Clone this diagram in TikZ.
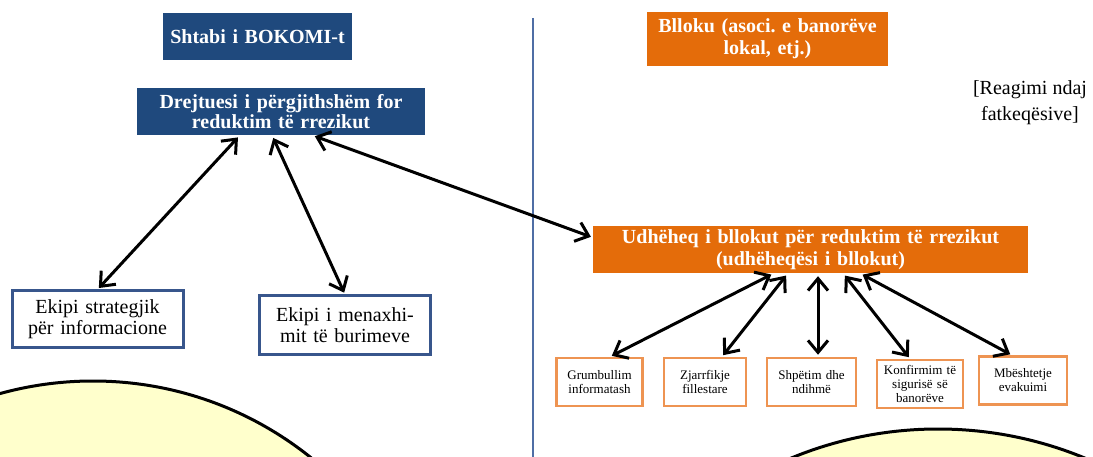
\documentclass[tikz,border=0pt]{standalone}
\usepackage{fontspec}
\setmainfont{Liberation Serif}
\usepackage{tikz}
\usetikzlibrary{shapes.geometric, arrows.meta}
\definecolor{navy}{RGB}{31,73,125}
\definecolor{portokalli}{RGB}{228,108,10}
\definecolor{portokallic}{RGB}{238,148,82}
\definecolor{kufiblu}{RGB}{56,86,140}
\definecolor{linja}{RGB}{79,110,165}
\definecolor{verdhe}{RGB}{255,255,204}
\tikzstyle{qendra} = [rectangle, minimum height=47pt, text centered, text width=280pt, fill=navy, text=white, inner sep=2pt, font=\fontsize{20}{20}\selectfont\bfseries]
\tikzstyle{blloku} = [rectangle, minimum height=47pt, text centered, text width=420pt, fill=portokalli, text=white, inner sep=2pt, font=\fontsize{20}{22}\selectfont\bfseries]
\tikzstyle{ekipi} = [rectangle, minimum width=171pt, minimum height=56pt, text centered, text width=160pt, draw=kufiblu, line width=3pt, fill=white, inner sep=2pt, font=\fontsize{20}{21}\selectfont]
\tikzstyle{detyra} = [rectangle, minimum width=86pt, minimum height=48pt, text centered, text width=80pt, draw=portokallic, line width=2.5pt, fill=white, inner sep=1pt, font=\fontsize{13}{14}\selectfont]
\tikzstyle{arrow} = [line width=3pt, <->, >={Straight Barb[length=12pt,width=20pt]}, shorten <=3pt, shorten >=2pt]
\frenchspacing

\begin{document}
\begin{tikzpicture}[node distance=75pt]
  \useasboundingbox (0,0) rectangle (1093pt,-457pt);
  \clip (0,0) rectangle (1093pt,-457pt);
  \draw [line width=3pt, fill=verdhe] (93pt,-729pt) circle (348pt);
  \draw [line width=3pt, fill=verdhe] (938pt,-813pt) circle (384pt);
  \coordinate (ndarjeA) at (533pt,-18pt);
  \coordinate (ndarjeB) at (533pt,-457pt);
  \draw [linja, line width=2pt] (ndarjeA) -- (ndarjeB);

  \node (shtabi) [qendra, text width=180pt, minimum width=189pt] at (257.5pt,-36.5pt) {Shtabi i BOKOMI-t};
  \node (drejt) [qendra, below of=shtabi, xshift=23.5pt, minimum width=288pt] {Drejtuesi i përgjithshëm for\\reduktim të rrezikut};
  \node (strat) [ekipi, below of=drejt, xshift=-183.5pt, yshift=-132.5pt] {Ekipi strategjik\\për informacione};
  \node (menax) [ekipi, right of=strat, xshift=172.5pt, yshift=-6pt, minimum height=58pt] {Ekipi i menaxhi-\\mit të burimeve};

  \node (bllok) [blloku, right of=shtabi, xshift=435pt, yshift=-2.5pt, text width=236pt, minimum width=241pt, minimum height=54pt] {Blloku (asoci. e banorëve\\lokal, etj.)};
  \node (reag) [right of=bllok, xshift=187.5pt, yshift=-64pt, text centered, font=\fontsize{20}{26}\selectfont, align=center] {[Reagimi ndaj\\fatkeqësive]};
  \node (udh) [blloku, below of=bllok, xshift=43pt, yshift=-135.5pt, minimum width=435pt] {Udhëheq i bllokut për reduktim të rrezikut\\(udhëheqësi i bllokut)};

  \node (grumb) [detyra, below of=udh, xshift=-211pt, yshift=-57.5pt] {Grumbullim\\informatash};
  \node (zjarr) [detyra, right of=grumb, xshift=30.5pt, minimum width=82pt] {Zjarrfikje\\fillestare};
  \node (shpet) [detyra, right of=zjarr, xshift=31.5pt, minimum width=89pt] {Shpëtim dhe\\ndihmë};
  \node (konf) [detyra, right of=shpet, xshift=33.5pt, yshift=-2pt] {Konfirmim të\\sigurisë së\\banorëve};
  \node (mbesht) [detyra, right of=konf, xshift=28pt, yshift=3.5pt, minimum width=88pt] {Mbështetje\\evakuimi};

  \draw [arrow] ([xshift=-41pt]drejt.south) -- (strat.north);
  \draw [arrow] ([xshift=-9pt]drejt.south) -- (menax.north);
  \draw [arrow] ([xshift=31pt]drejt.south) -- ([yshift=12pt]udh.west);
  \draw [arrow] ([xshift=-36.5pt]udh.south) -- ([xshift=10.5pt]grumb.north);
  \draw [arrow] ([xshift=-22.5pt]udh.south) -- ([xshift=17pt]zjarr.north);
  \draw [arrow] ([xshift=7.5pt]udh.south) -- ([xshift=6.5pt]shpet.north);
  \draw [arrow] ([xshift=32.5pt]udh.south) -- ([xshift=-10pt]konf.north);
  \draw [arrow] ([xshift=49.5pt]udh.south) -- ([xshift=-11pt]mbesht.north);
\end{tikzpicture}
\end{document}
